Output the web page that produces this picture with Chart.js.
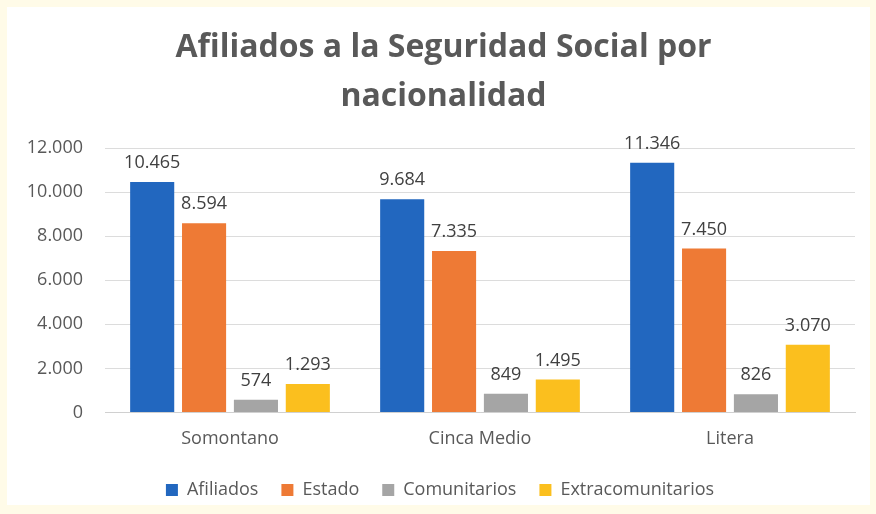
<!DOCTYPE html>
<html>
<head>
<meta charset="utf-8">
<script src="https://cdn.jsdelivr.net/npm/chart.js@4"></script>
<style>
  html, body { margin: 0; padding: 0; background: #fffbe8; }
  #panel { position: absolute; left: 7px; top: 7px; width: 863px; height: 498px; background: #ffffff; }
  #chart { position: absolute; left: 7px; top: 7px; display: block; }
</style>
</head>
<body>
<div id="panel"></div>
<canvas id="chart" width="863" height="502"></canvas>
<script>
const categories = ["Somontano", "Cinca Medio", "Litera"];
const seriesNames = ["Afiliados", "Estado", "Comunitarios", "Extracomunitarios"];
const afiliados = [10465, 9684, 11346];
const estado = [8594, 7335, 7450];
const comunitarios = [574, 849, 826];
const extracomunitarios = [1293, 1495, 3070];
const yTicks = [0, 2000, 4000, 6000, 8000, 10000, 12000];

const colors = ["#2267bf", "#ee7a35", "#a5a5a5", "#fbbf1e"];
const font = "'Open Sans', 'Noto Sans', sans-serif";

function fmt(v) {
    return v.toLocaleString("de-DE");
}

// draws the value above every bar
const valueLabels = {
    id: "valueLabels",
    afterLayout(chart) {
        // nudge the title a little to the right, like the original
        if (chart.titleBlock) chart.titleBlock.left += 7;
    },
    afterDatasetsDraw(chart) {
        const ctx = chart.ctx;
        ctx.save();
        ctx.font = "18px " + font;
        ctx.fillStyle = "#404040";
        ctx.textAlign = "center";
        ctx.textBaseline = "bottom";
        chart.data.datasets.forEach((ds, i) => {
            chart.getDatasetMeta(i).data.forEach((bar, j) => {
                ctx.fillText(fmt(ds.data[j]), bar.x, bar.y - 10);
            });
        });
        ctx.restore();
    },
};

const datasets = [afiliados, estado, comunitarios, extracomunitarios].map((d, i) => ({
    label: seriesNames[i],
    data: d,
    backgroundColor: colors[i],
    categoryPercentage: 0.83,
    barPercentage: 0.85,
}));

new Chart(document.getElementById("chart"), {
    type: "bar",
    data: { labels: categories, datasets: datasets },
    plugins: [valueLabels],
    options: {
        responsive: false,
        animation: false,
        layout: { padding: { left: 18, right: 15, top: 0, bottom: 0 } },
        scales: {
            x: {
                grid: { display: false },
                border: { color: "#d0d0d0" },
                ticks: { color: "#595959", font: { family: font, size: 18 }, padding: 8 },
            },
            y: {
                min: 0,
                max: 12000,
                afterBuildTicks: (axis) => { axis.ticks = yTicks.map((v) => ({ value: v })); },
                afterFit: (axis) => { axis.width = 80; },
                grid: { color: "#dcdcdc", drawTicks: false },
                border: { display: false },
                ticks: {
                    color: "#595959",
                    font: { family: font, size: 18 },
                    padding: 22,
                    callback: (v) => fmt(v),
                },
            },
        },
        plugins: {
            title: {
                display: true,
                text: ["Afiliados a la Seguridad Social por", "nacionalidad"],
                color: "#595959",
                font: { family: font, size: 32, weight: "bold", lineHeight: 1.52 },
                padding: { top: 17, bottom: 27 },
            },
            legend: {
                position: "bottom",
                labels: {
                    color: "#595959",
                    font: { family: font, size: 18 },
                    boxWidth: 12,
                    boxHeight: 12,
                    padding: 23,
                },
            },
            tooltip: { enabled: false },
        },
    },
});
</script>
</body>
</html>
